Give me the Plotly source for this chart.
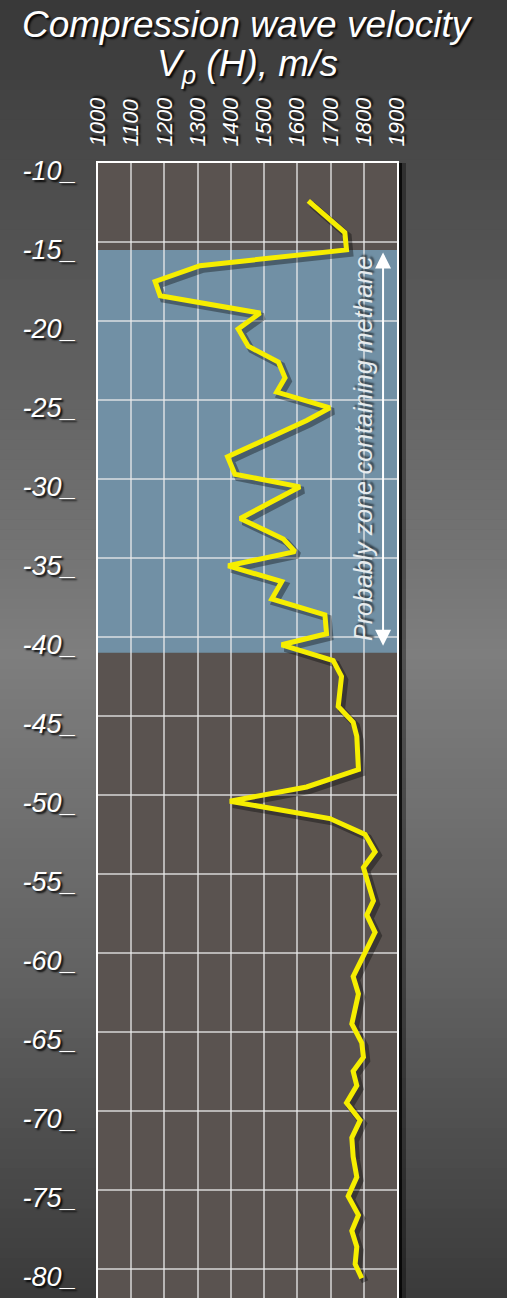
import plotly.graph_objects as go

# ---- data -------------------------------------------------------------
depth_m = [
    -12.4, -14.4, -15.5, -16.5, -17.5, -18.4, -19.5, -20.5, -21.6, -22.6,
    -23.6, -24.5, -25.5, -26.3, -28.6, -29.7, -30.5, -32.5, -33.8, -34.6,
    -35.5, -36.5, -37.6, -38.6, -39.8, -40.5, -41.5, -42.5, -44.4, -45.4,
    -46.3, -48.4, -49.5, -50.4, -51.5, -52.5, -53.6, -54.6, -56.7, -57.6,
    -58.7, -60.0, -61.5, -62.6, -64.5, -65.7, -66.6, -67.5, -68.4, -69.5,
    -70.6, -71.7, -72.9, -74.2, -75.4, -76.6, -77.6, -78.6, -79.7, -80.6,
]
vp_ms = [
    1633, 1743, 1748, 1307, 1172, 1187, 1488, 1422, 1452, 1543,
    1563, 1538, 1698, 1628, 1390, 1412, 1608, 1428, 1558, 1593,
    1392, 1553, 1523, 1683, 1688, 1553, 1708, 1733, 1723, 1768,
    1779, 1784, 1628, 1397, 1698, 1804, 1834, 1799, 1829, 1809,
    1834, 1804, 1768, 1784, 1764, 1794, 1799, 1768, 1779, 1748,
    1789, 1764, 1768, 1779, 1753, 1784, 1764, 1779, 1774, 1794,
]

# methane-bearing interval (depths, m)
zone_top = -15.5
zone_bottom = -41.0
zone_label = "Probably zone containing methane"

# axes
vel_ticks = [1000, 1100, 1200, 1300, 1400, 1500, 1600, 1700, 1800, 1900]
depth_ticks = [-10, -15, -20, -25, -30, -35, -40, -45, -50, -55, -60, -65, -70, -75, -80]
depth_labels = [f"{d}_" for d in depth_ticks]

title_line1 = "Compression wave velocity"
title_line2 = "V<sub>p</sub> (H), m/s"

# ---- styling ------------------------------------------------------------
W, H = 507, 1298
ML, MR, MT, MB = 98, 110, 163, 0
PW, PH = W - ML - MR, H - MT - MB
FONT = "Liberation Sans, Arial, sans-serif"
SHADOW = "2px 2px 2px rgba(0,0,0,0.9)"


def paper_x(px):
    return (px - ML) / PW


def paper_y(py):
    return (H - MB - py) / PH


def lerp_hex(stops, t):
    for (t0, c0), (t1, c1) in zip(stops, stops[1:]):
        if t0 <= t <= t1:
            f = (t - t0) / (t1 - t0) if t1 > t0 else 0
            return "rgb({},{},{})".format(*[round(a + (b - a) * f) for a, b in zip(c0, c1)])
    return "rgb({},{},{})".format(*stops[-1][1])


bg_stops = [
    (0.00, (56, 56, 56)),
    (0.25, (92, 92, 92)),
    (0.50, (126, 126, 126)),
    (0.75, (98, 98, 98)),
    (1.00, (58, 58, 58)),
]

shapes = []
# page background: vertical grey gradient built from thin bands
n_bands = 130
band = H / n_bands
for i in range(n_bands):
    y0 = i * band
    shapes.append(dict(
        type="rect", xref="paper", yref="paper", layer="below",
        x0=paper_x(0), x1=paper_x(W), y0=paper_y(y0 + band + 0.5), y1=paper_y(y0),
        fillcolor=lerp_hex(bg_stops, (y0 + band / 2) / H), line_width=0,
    ))
# drop shadow along the right edge of the plot
shapes.append(dict(type="rect", xref="paper", yref="paper", layer="below",
                   x0=1.0, x1=paper_x(ML + PW + 5), y0=0, y1=1,
                   fillcolor="rgba(0,0,0,0.85)", line_width=0))
shapes.append(dict(type="rect", xref="paper", yref="paper", layer="below",
                   x0=paper_x(ML + PW + 5), x1=paper_x(ML + PW + 9), y0=0, y1=1,
                   fillcolor="rgba(0,0,0,0.35)", line_width=0))
# plot background
shapes.append(dict(type="rect", xref="paper", yref="paper", layer="below",
                   x0=0, x1=1, y0=0, y1=1, fillcolor="#5a5350", line_width=0))
# methane zone band
shapes.append(dict(type="rect", xref="x domain", yref="y", layer="below",
                   x0=0, x1=1, y0=zone_bottom, y1=zone_top,
                   fillcolor="#7190a5", line_width=0))

fig = go.Figure()

# soft shadow under the curve
fig.add_trace(go.Scatter(
    x=[v + 10 for v in vp_ms], y=[d - 0.22 for d in depth_m],
    mode="lines", line=dict(color="rgba(0,0,0,0.35)", width=7),
    hoverinfo="skip", showlegend=False,
))
fig.add_trace(go.Scatter(
    x=vp_ms, y=depth_m, mode="lines",
    line=dict(color="#f6ee00", width=5),
    showlegend=False,
))

annotations = [
    dict(text=title_line1, xref="paper", yref="paper",
         x=paper_x(247), y=paper_y(25), xanchor="center", yanchor="middle",
         showarrow=False,
         font=dict(family=FONT, size=37, color="white", style="italic", shadow=SHADOW)),
    dict(text=title_line2, xref="paper", yref="paper",
         x=paper_x(247), y=paper_y(66), xanchor="center", yanchor="middle",
         showarrow=False,
         font=dict(family=FONT, size=37, color="white", style="italic", shadow=SHADOW)),
    # double-headed arrow spanning the methane zone
    dict(x=1858, y=zone_bottom, ax=1858, ay=zone_top,
         xref="x", yref="y", axref="x", ayref="y", text="",
         showarrow=True, arrowside="end+start", arrowhead=2, startarrowhead=2,
         arrowsize=1.6, startarrowsize=1.6, arrowwidth=2, arrowcolor="white",
         standoff=7, startstandoff=1),
    dict(text=zone_label, xref="x", yref="y",
         x=1797, y=(zone_top + zone_bottom) / 2 + 0.2, textangle=-90,
         showarrow=False, xanchor="center", yanchor="middle",
         font=dict(family=FONT, size=25, color="#e6ebee", style="italic",
                   shadow="2px 2px 2px rgba(0,0,0,0.6)")),
]

fig.update_layout(
    width=W, height=H,
    margin=dict(l=ML, r=MR, t=MT, b=MB, pad=0),
    paper_bgcolor="#5a5a5a",
    plot_bgcolor="#5a5350",
    shapes=shapes,
    annotations=annotations,
    showlegend=False,
)

fig.update_xaxes(
    side="top", range=[1000, 1900], tickmode="array",
    tickvals=vel_ticks, ticktext=[str(v) for v in vel_ticks],
    tickangle=-90, ticks="", ticklabelstandoff=10,
    tickfont=dict(family=FONT, size=22, color="white", style="italic", shadow=SHADOW),
    showgrid=True, gridcolor="rgba(235,235,235,0.65)", gridwidth=1.5,
    showline=True, linecolor="white", linewidth=2, mirror=False,
    zeroline=False, fixedrange=True,
)
fig.update_yaxes(
    range=[-81.85, -10], tickmode="array",
    tickvals=depth_ticks, ticktext=depth_labels,
    ticks="", ticklabelstandoff=14, ticklabelshift=8,
    tickfont=dict(family=FONT, size=27, color="white", style="italic", shadow=SHADOW),
    showgrid=True, gridcolor="rgba(235,235,235,0.65)", gridwidth=1.5,
    showline=True, linecolor="white", linewidth=2, mirror=True,
    zeroline=False, fixedrange=True,
)

fig.write_html("out.html", config={"displayModeBar": False})
